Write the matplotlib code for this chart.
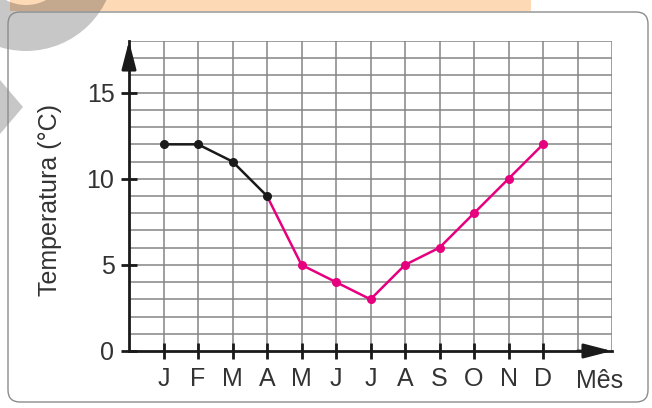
import numpy as np
import matplotlib
matplotlib.use("Agg")
from matplotlib import pyplot as plt
from matplotlib.patches import Rectangle, Wedge, Polygon, FancyBboxPatch

# meses e temperaturas
meses = ['J', 'F', 'M', 'A', 'M', 'J', 'J', 'A', 'S', 'O', 'N', 'D']
temperatura = [12, 12, 11, 9, 5, 4, 3, 5, 6, 8, 10, 12]
yticks = [0, 5, 10, 15]

plt.rcParams['font.family'] = ['Liberation Sans', 'DejaVu Sans']
cor_txt = '#333333'
cor_eixo = '#1a1a1a'
magenta = '#e6007e'

fig = plt.figure(figsize=(6.52, 4.08), dpi=100)

# fundo decorativo em coordenadas de pixel
bg = fig.add_axes([0, 0, 1, 1], zorder=0)
bg.set_xlim(0, 652)
bg.set_ylim(408, 0)
bg.axis('off')
bg.add_patch(Rectangle((10, -5), 521, 16, facecolor='#fdd9b6', edgecolor='none'))
bg.add_patch(Wedge((26, -38), 89, 0, 360, width=46, facecolor='black', alpha=0.22, edgecolor='none'))
bg.add_patch(Polygon([(0, 80), (23, 107), (0, 134)], closed=True, facecolor='black', alpha=0.22, edgecolor='none'))
bg.add_patch(FancyBboxPatch((8, 12), 640, 390, boxstyle='round,pad=0,rounding_size=12',
                            facecolor='none', edgecolor='#8c8c8c', lw=1.0))

ax = fig.add_axes([129 / 652, 57 / 408, 483 / 652, 310 / 408], zorder=2)
ax.patch.set_alpha(0)
ax.set_xlim(0, 14)
ax.set_ylim(0, 18)

# grade
ax.hlines(np.arange(1, 19), 0, 14, colors='#858585', lw=1.1, zorder=1)
ax.vlines(np.arange(1, 15), 0, 18, colors='#858585', lw=1.1, zorder=1)

for s in ['top', 'right']:
    ax.spines[s].set_visible(False)
for s in ['left', 'bottom']:
    ax.spines[s].set_color(cor_eixo)
    ax.spines[s].set_linewidth(2)
    ax.spines[s].set_zorder(3)

seta = dict(arrowstyle='-|>,head_length=0.85,head_width=0.22', color=cor_eixo, lw=2,
            shrinkA=0, shrinkB=0, mutation_scale=20)
ax.annotate('', xy=(14, 0), xytext=(13, 0), arrowprops=seta, annotation_clip=False, zorder=4)
ax.annotate('', xy=(0, 18), xytext=(0, 17), arrowprops=seta, annotation_clip=False, zorder=4)

x = np.arange(1, 13)
ax.plot(x[:4], temperatura[:4], color=cor_eixo, lw=1.8, zorder=5, clip_on=False)
ax.plot(x[3:], temperatura[3:], color=magenta, lw=1.8, zorder=5, clip_on=False)
ax.plot(x[4:], temperatura[4:], 'o', color=magenta, ms=5.5, zorder=6, clip_on=False)
ax.plot(x[:4], temperatura[:4], 'o', color=cor_eixo, ms=5.5, zorder=6, clip_on=False)

ax.set_xticks(x)
ax.set_xticklabels(meses)
ax.set_yticks(yticks)
ax.tick_params(direction='inout', length=11, width=2, color=cor_eixo,
               labelsize=18, labelcolor=cor_txt)
ax.tick_params(axis='x', pad=6)
ax.tick_params(axis='y', pad=5)

fig.text(600 / 652, 1 - 381 / 408, 'Mês', ha='center', va='center', fontsize=18, color=cor_txt)
fig.text(50 / 652, 1 - 200 / 408, 'Temperatura (°C)', ha='center', va='center',
         rotation=90, fontsize=18, color=cor_txt)

fig.savefig('out.png', dpi=100)
